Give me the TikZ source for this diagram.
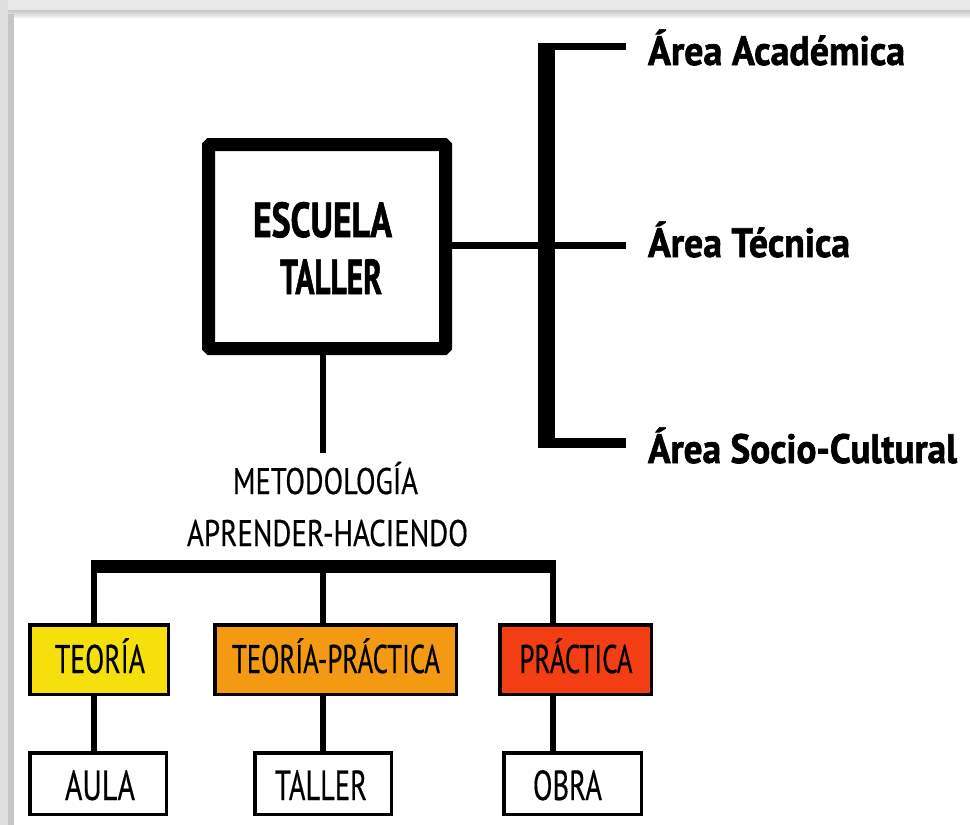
\documentclass[tikz,border=0pt]{standalone}
\usepackage{fontspec}
\setmainfont{PT Sans}
\newfontfamily\hvfont[FakeBold=1.6]{PT Sans Bold}
\newfontfamily\rgfont[FakeBold=0.5]{PT Sans}
\usepackage{graphicx}
\definecolor{cyel}{HTML}{F5E00C}
\definecolor{cora}{HTML}{F39A12}
\definecolor{cred}{HTML}{F33D12}
\newcommand{\fitt}[3]{\resizebox{#1pt}{\height}{\fontsize{#2pt}{#2pt}\selectfont #3}}
\tikzset{
  txt/.style={inner sep=0pt, outer sep=0pt, anchor=base, text=black},
  ebox/.style={draw=black, line width=13pt, rounded corners=1.5pt, fill=white, inner sep=0pt},
  sbox/.style={draw=black, line width=3.5pt, inner sep=0pt},
  conn/.style={draw=black, line width=6pt},
  thin/.style={draw=black, line width=7pt},
}
\begin{document}
\begin{tikzpicture}[x=1pt, y=-1pt]
\useasboundingbox (0,0) rectangle (970,825);
\fill[white] (0,0) rectangle (970,825);
% frame shadow
\fill[gray!18] (0,0) rectangle (970,10);
\shade[top color=gray!45, bottom color=gray!12] (0,10) rectangle (970,17);
\fill[gray!25] (0,0) rectangle (8,825);
\fill[gray!45] (8,14) rectangle (14,825);

% main box
\node[ebox, minimum width=237pt, minimum height=204pt] (esc) at (327,246.5) {};
\node[txt] (esc1) at (322.5,237) {\fitt{139}{49}{\hvfont ESCUELA}};
\node[txt] (esc2) at (331,294) {\fitt{102}{49}{\hvfont TALLER}};

% right bracket
\coordinate (brT) at (546.5,43);
\coordinate (brB) at (546.5,448);
\coordinate (aT) at (626,46.5);
\coordinate (aM) at (626,245);
\coordinate (aS) at (626,443);
\draw[draw=black, line width=17pt] (brT) -- (brB);
\draw[thin] (aT -| brT) -- (aT);
\draw[thin] (esc.east |- aM) -- (aM);
\draw[draw=black, line width=10pt] (aS -| brT) -- (aS);
\node[txt, anchor=base west] (ac) at (648,65) {\fitt{257}{41}{\hvfont Área Académica}};
\node[txt, anchor=base west] (te) at (648,257) {\fitt{202}{41}{\hvfont Área Técnica}};
\node[txt, anchor=base west] (so) at (648,463) {\fitt{309}{41}{\hvfont Área Socio-Cultural}};

% methodology
\coordinate (mtop) at (323,453);
\draw[conn] (esc.south -| mtop) -- (mtop);
\node[txt] (met1) at (325.5,494) {\fitt{185}{37}{\rgfont METODOLOGÍA}};
\node[txt] (met2) at (327.5,546) {\fitt{281}{37}{\rgfont APRENDER-HACIENDO}};

% bar
\coordinate (barL) at (91,566.5);
\coordinate (barR) at (556,566.5);
\draw[draw=black, line width=13pt] (barL) -- (barR);
\coordinate (bl) at (94,566.5);
\coordinate (bm) at (323,566.5);
\coordinate (br) at (553,566.5);

% colored boxes
\node[sbox, fill=cyel, minimum width=138.5pt, minimum height=69.5pt] (teo) at (99,659.5) {};
\node[sbox, fill=cora, minimum width=241.5pt, minimum height=69.5pt] (tp) at (335.5,659.5) {};
\node[sbox, fill=cred, minimum width=151.5pt, minimum height=69.5pt] (pr) at (575.5,659.5) {};
\node[txt] (teot) at (100,673) {\fitt{90}{40}{\rgfont TEORÍA}};
\node[txt] (tpt) at (336,673) {\fitt{208}{40}{\rgfont TEORÍA-PRÁCTICA}};
\node[txt] (prt) at (576,673) {\fitt{113}{40}{\rgfont PRÁCTICA}};

% white boxes
\node[sbox, fill=white, minimum width=136.5pt, minimum height=61.5pt] (aula) at (98,783.5) {};
\node[sbox, fill=white, minimum width=136.5pt, minimum height=61.5pt] (tal) at (323,783.5) {};
\node[sbox, fill=white, minimum width=137.5pt, minimum height=61.5pt] (obra) at (572.5,783.5) {};
\node[txt] (aulat) at (100,800) {\fitt{70}{42}{\rgfont AULA}};
\node[txt] (talt) at (321,800) {\fitt{92}{42}{\rgfont TALLER}};
\node[txt] (obrat) at (567.5,800) {\fitt{69}{42}{\rgfont OBRA}};

% connectors
\draw[conn] (bl) -- (teo.north -| bl);
\draw[conn] (bm) -- (tp.north -| bm);
\draw[conn] (br) -- (pr.north -| br);
\draw[conn] (teo.south -| bl) -- (aula.north -| bl);
\draw[conn] (tp.south -| bm) -- (tal.north -| bm);
\draw[conn] (pr.south -| br) -- (obra.north -| br);
\end{tikzpicture}
\end{document}
